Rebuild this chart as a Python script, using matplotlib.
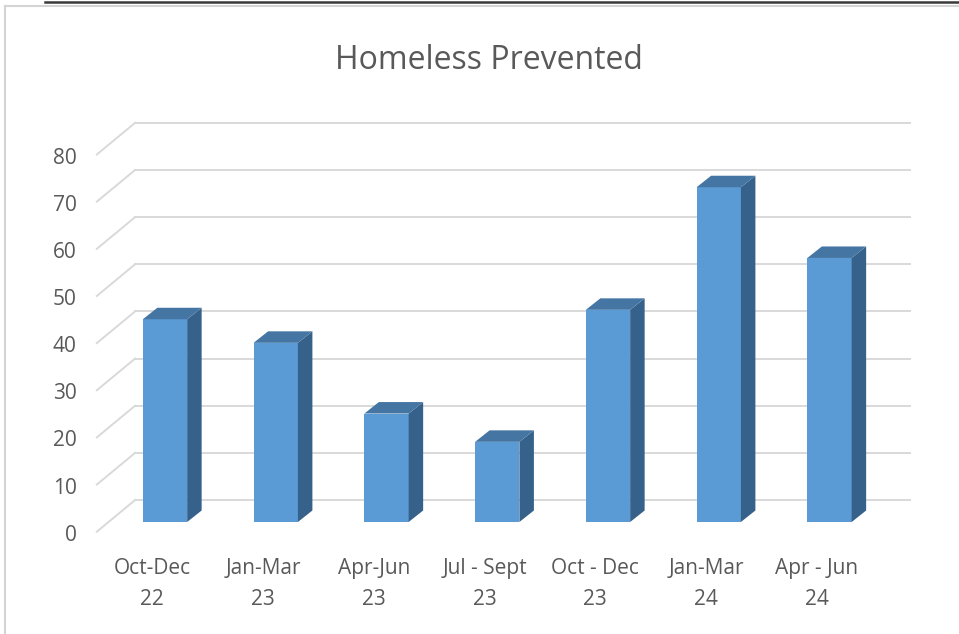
import matplotlib
matplotlib.use('Agg')
import matplotlib.pyplot as plt
from matplotlib.patches import Polygon
from matplotlib.lines import Line2D

categories = ["Oct-Dec\n22", "Jan-Mar\n23", "Apr-Jun\n23", "Jul - Sept\n23",
              "Oct - Dec\n23", "Jan-Mar\n24", "Apr - Jun\n24"]
values = [43, 38, 23, 17, 45, 71, 56]
yticks = [0, 10, 20, 30, 40, 50, 60, 70, 80]
title = "Homeless Prevented"

W, H, DPI = 959, 634, 100
FONT = "Open Sans"
TXT = "#595959"
GRID = "#d9d9d9"
FRONT = "#5b9bd5"
SIDE = "#36618a"
TOP = "#4576a3"

fig = plt.figure(figsize=(W / DPI, H / DPI), dpi=DPI)
fig.patch.set_facecolor("white")

# geometry (pixels)
slot = 110.75
x_left = 165 - 0.5 * slot
ybase = 522
scale = 4.715  # px per unit
ax = fig.add_axes([x_left / W, (H - ybase) / H, 7 * slot / W, 80 * scale / H])
ax.set_xlim(-0.5, 6.5)
ax.set_ylim(0, 80)
ax.axis("off")

def px2d(dx, dy):
    return dx / slot, dy / scale

wall_dx, wall_dy = px2d(25.5, 22)     # back wall relative to bar front plane
floor_dx, floor_dy = px2d(-12.8, -9.7)  # front floor edge relative to bar front
bar_dx, bar_dy = px2d(14.5, 11.5)
bw = 0.40
n = len(values)
xs = list(range(n))
xmin, xmax = -0.5, n - 0.5

# gridlines on back wall + side wall diagonals
for t in yticks:
    ax.add_line(Line2D([xmin + wall_dx, xmax + wall_dx], [t + wall_dy, t + wall_dy],
                       color=GRID, lw=1.4, clip_on=False, zorder=1))
    ax.add_line(Line2D([xmin + wall_dx, xmin + floor_dx], [t + wall_dy, t + floor_dy],
                       color=GRID, lw=1.4, clip_on=False, zorder=1))
    ax.text(xmin + floor_dx - 20 / slot, t + floor_dy - 3.5 / scale, str(t), ha="right",
            va="center", fontsize=15, color=TXT, family=FONT, clip_on=False)

# bars
ax.bar(xs, values, width=bw, color=FRONT, zorder=3, clip_on=False)
for x, v in zip(xs, values):
    r = x + bw / 2
    l = x - bw / 2
    ax.add_patch(Polygon([(r, 0), (r + bar_dx, bar_dy), (r + bar_dx, v + bar_dy), (r, v)],
                         closed=True, facecolor=SIDE, edgecolor="none", zorder=3, clip_on=False))
    ax.add_patch(Polygon([(l, v), (r, v), (r + bar_dx, v + bar_dy), (l + bar_dx, v + bar_dy)],
                         closed=True, facecolor=TOP, edgecolor="none", zorder=3, clip_on=False))

# category labels
for x, c in zip(xs, categories):
    ax.text(x + floor_dx, -62 / scale, c, ha="center", va="center", fontsize=15,
            color=TXT, family=FONT, linespacing=1.62, clip_on=False)

fig.text(489 / W, (H - 69) / H, title, ha="center", va="baseline", fontsize=23,
         color=TXT, family=FONT)

# frame decorations
fig.add_artist(Line2D([45 / W, 1], [(H - 1.5) / H, (H - 1.5) / H], color="#3a3a3a", lw=1.8,
                      transform=fig.transFigure))
fig.add_artist(Line2D([5 / W, 1], [(H - 6) / H, (H - 6) / H], color="#d4d4d4", lw=1.5,
                      transform=fig.transFigure))
fig.add_artist(Line2D([5 / W, 5 / W], [0, (H - 6) / H], color="#d4d4d4", lw=1.5,
                      transform=fig.transFigure))

fig.savefig("out.png", dpi=DPI, facecolor="white")
